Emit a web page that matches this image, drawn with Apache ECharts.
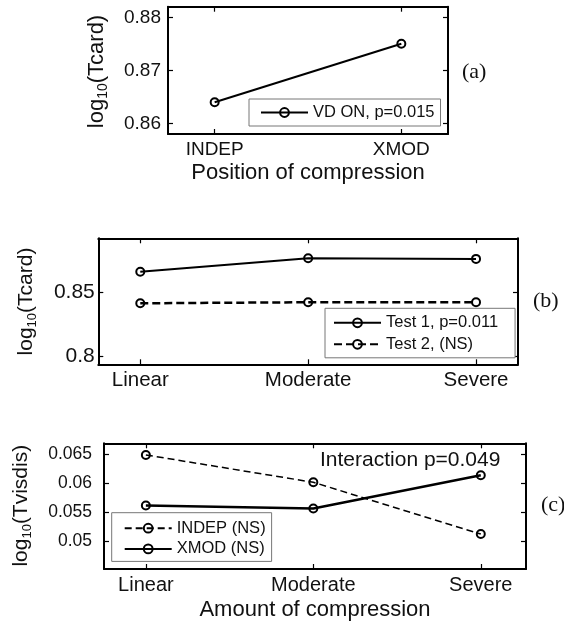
<!DOCTYPE html>
<html><head><meta charset="utf-8">
<script src="https://cdn.jsdelivr.net/npm/echarts@6/dist/echarts.min.js"></script>
<style>html,body{margin:0;padding:0;background:#fff}#c{width:564px;height:622px}</style>
</head><body><div id="c"></div>
<script>
// ---- Panel (a) ----
const catsA = ['INDEP', 'XMOD'];
const vdOn = [0.864, 0.875];
const yTicksA = [0.86, 0.87, 0.88];
// ---- Panel (b) ----
const catsB = ['Linear', 'Moderate', 'Severe'];
const test1 = [0.8664, 0.8769, 0.8764];
const test2 = [0.8417, 0.8425, 0.8425];
const yTicksB = [0.8, 0.85];
// ---- Panel (c) ----
const catsC = ['Linear', 'Moderate', 'Severe'];
const indep = [0.0649, 0.0602, 0.0513];
const xmod = [0.0562, 0.0557, 0.0614];
const yTicksC = [0.05, 0.055, 0.06, 0.065];

const FONT = '"Liberation Sans", Arial, Helvetica, sans-serif';
const SERIF = '"Liberation Serif", "Times New Roman", serif';
const INK = '#111';

const pts = arr => arr.map((v, i) => [i + 1, v]);
const idx = cats => cats.map((c, i) => i + 1);

function xPair(grid, cats, min, max, fs, margin, name, nameGap) {
  const base = {
    type: 'value', gridIndex: grid, min: min, max: max,
    axisLine: {show: true, onZero: false, lineStyle: {color: '#000', width: 2}},
    axisTick: {show: true, inside: true, length: 5, customValues: idx(cats), lineStyle: {color: '#000', width: 1.2}},
    splitLine: {show: false}
  };
  return [
    Object.assign({}, base, {
      position: 'bottom',
      axisLabel: {show: true, customValues: idx(cats), formatter: v => cats[Math.round(v) - 1] || '',
        fontSize: fs, fontFamily: FONT, color: INK, margin: margin},
      name: name || '', nameLocation: 'middle', nameGap: nameGap || 0,
      nameTextStyle: {fontSize: 22, fontFamily: FONT, color: INK}
    }),
    Object.assign({}, base, {position: 'top', axisLabel: {show: false}})
  ];
}

function yPair(grid, ticks, min, max, fs, margin) {
  const base = {
    type: 'value', gridIndex: grid, min: min, max: max, scale: true,
    axisLine: {show: true, onZero: false, lineStyle: {color: '#000', width: 2}},
    axisTick: {show: true, inside: true, length: 5, customValues: ticks, lineStyle: {color: '#000', width: 1.2}},
    splitLine: {show: false}
  };
  return [
    Object.assign({}, base, {
      position: 'left',
      axisLabel: {show: true, customValues: ticks, fontSize: fs, fontFamily: FONT, color: INK, margin: margin}
    }),
    Object.assign({}, base, {position: 'right', axisLabel: {show: false}})
  ];
}

function lineSeries(name, xi, yi, data, width, dash) {
  return {
    type: 'line', name: name, xAxisIndex: xi, yAxisIndex: yi, data: pts(data),
    symbol: 'circle', symbolSize: 8, showSymbol: true,
    lineStyle: {color: '#000', width: width, type: dash ? dash : 'solid'},
    itemStyle: {color: 'transparent', borderColor: '#000', borderWidth: 2},
    emphasis: {disabled: true}, silent: true
  };
}

function legendBox(names, left, top, padding, gap) {
  return {
    data: names, orient: 'vertical', left: left, top: top,
    itemWidth: 47, itemHeight: 11, itemGap: gap, padding: padding,
    borderColor: '#777', borderWidth: 1, backgroundColor: '#fff',
    selectedMode: false,
    textStyle: {fontSize: 16.5, fontFamily: FONT, color: INK, lineHeight: 17}
  };
}

// rotated y-axis title "log10(...)" with a real subscript
const mctx = document.createElement('canvas').getContext('2d');
function tw(text, fs) { mctx.font = fs + 'px "Liberation Sans"'; return mctx.measureText(text).width; }
function yTitle(cx, cy, main, fs) {
  const sfs = Math.round(fs * 0.64);
  const w1 = tw('log', fs), w2 = tw('10', sfs), w3 = tw('(' + main + ')', fs);
  const x0 = -(w1 + w2 + w3) / 2;
  const st = (t, f) => ({text: t, fontSize: f, fontFamily: FONT, fill: INK, align: 'left', verticalAlign: 'middle'});
  return {
    type: 'group', x: cx, y: cy, rotation: Math.PI / 2, silent: true,
    children: [
      {type: 'text', x: x0, y: 0, style: st('log', fs)},
      {type: 'text', x: x0 + w1, y: fs * 0.3, style: st('10', sfs)},
      {type: 'text', x: x0 + w1 + w2, y: 0, style: st('(' + main + ')', fs)}
    ]
  };
}

const xAxes = [].concat(
  xPair(0, catsA, 0.75, 2.25, 19, 6, 'Position of compression', 28),
  xPair(1, catsB, 0.75, 3.25, 20.5, 6),
  xPair(2, catsC, 0.75, 3.27, 20, 6, 'Amount of compression', 30)
);
const yAxes = [].concat(
  yPair(0, yTicksA, 0.858, 0.882, 19, 7),
  yPair(1, yTicksB, 0.794, 0.8925, 21, 3.5),
  yPair(2, yTicksC, 0.0453, 0.0669, 17.5, 12)
);

const gridBase = {containLabel: false, outerBoundsMode: 'none'};
const option = {
  backgroundColor: '#fff',
  animation: false,
  grid: [
    Object.assign({left: 168, top: 6.7, width: 280, height: 127.3}, gridBase),
    Object.assign({left: 98.3, top: 238.3, width: 419.7, height: 126}, gridBase),
    Object.assign({left: 104, top: 443.3, width: 422, height: 125.7}, gridBase)
  ],
  xAxis: xAxes,
  yAxis: yAxes,
  legend: [
    legendBox(['VD ON, p=0.015'], 249, 99, [5, 6, 5, 11], 4.5),
    legendBox(['Test 1, p=0.011', 'Test 2, (NS)'], 325, 308.3, [6, 17, 5, 8], 4.5),
    legendBox(['INDEP (NS)', 'XMOD (NS)'], 111.7, 512.7, [7, 6, 4, 12], 3.7)
  ],
  series: [
    lineSeries('VD ON, p=0.015', 0, 0, vdOn, 2),
    lineSeries('Test 1, p=0.011', 2, 2, test1, 2),
    lineSeries('Test 2, (NS)', 2, 2, test2, 2.5, [8, 4]),
    lineSeries('INDEP (NS)', 4, 4, indep, 1.5, [7, 4]),
    lineSeries('XMOD (NS)', 4, 4, xmod, 2.5)
  ],
  graphic: [
    yTitle(97, 71.5, 'Tcard', 22),
    yTitle(26, 301.5, 'Tcard', 21),
    yTitle(21, 505.7, 'Tvisdis', 21),
    {type: 'text', x: 462, y: 72, style: {text: '(a)', fontSize: 22, fontFamily: SERIF, fill: INK, align: 'left', verticalAlign: 'middle'}},
    {type: 'text', x: 533, y: 301, style: {text: '(b)', fontSize: 22, fontFamily: SERIF, fill: INK, align: 'left', verticalAlign: 'middle'}},
    {type: 'text', x: 541, y: 505, style: {text: '(c)', fontSize: 22, fontFamily: SERIF, fill: INK, align: 'left', verticalAlign: 'middle'}},
    {type: 'text', x: 320, y: 460, style: {text: 'Interaction p=0.049', fontSize: 21, fontFamily: FONT, fill: INK, align: 'left', verticalAlign: 'middle'}}
  ]
};

const chart = echarts.init(document.getElementById('c'), null, {renderer: 'canvas'});
chart.setOption(option);
</script>
</body></html>
